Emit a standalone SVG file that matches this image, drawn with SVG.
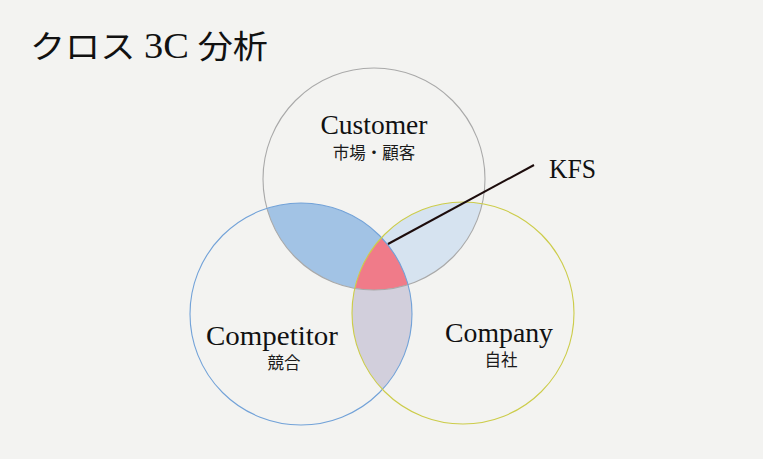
<svg xmlns="http://www.w3.org/2000/svg" width="763" height="459" viewBox="0 0 763 459">
<style>
.lab{font-family:"Liberation Serif","Noto Sans CJK JP",serif;fill:#111;}
.en{font-size:27px;}
.jp{font-size:16.5px;font-family:"Noto Sans CJK JP",sans-serif;fill:#1a1a1a;}
.ring{fill:none;stroke-width:1.1;}
</style>
<defs>
<clipPath id="cCust"><circle cx="374" cy="179" r="111"/></clipPath>
<clipPath id="cComp"><circle cx="301" cy="314" r="111"/></clipPath>
<clipPath id="cCo"><circle cx="463" cy="313" r="111"/></clipPath>
</defs>
<rect width="763" height="459" fill="#f3f3f1"/>
<g id="title"><text class="lab" x="30" y="58" font-size="32" textLength="238" lengthAdjust="spacingAndGlyphs">クロス <tspan font-size="35">3C</tspan> 分析</text></g>
<g id="overlaps">
<circle cx="301" cy="314" r="111" fill="#a2c3e5" clip-path="url(#cCust)"/>
<circle cx="463" cy="313" r="111" fill="#d6e3f0" clip-path="url(#cCust)"/>
<circle cx="463" cy="313" r="111" fill="#d2cfdc" clip-path="url(#cComp)"/>
<g clip-path="url(#cCust)"><circle cx="463" cy="313" r="111" fill="#f07b89" clip-path="url(#cComp)"/></g>
</g>
<g id="customer">
<circle class="ring" cx="374" cy="179" r="111" stroke="#a9a9a9"/>
<text class="lab en" x="374" y="134" text-anchor="middle" textLength="107" lengthAdjust="spacingAndGlyphs">Customer</text>
<text class="lab jp" x="374" y="159" text-anchor="middle">市場・顧客</text>
</g>
<g id="competitor">
<circle class="ring" cx="301" cy="314" r="111" stroke="#72a2d8"/>
<text class="lab en" x="272" y="345" text-anchor="middle" textLength="132" lengthAdjust="spacingAndGlyphs">Competitor</text>
<text class="lab jp" x="284" y="369" text-anchor="middle">競合</text>
</g>
<g id="company">
<circle class="ring" cx="463" cy="313" r="111" stroke="#cccc4a"/>
<text class="lab en" x="499" y="342" text-anchor="middle" textLength="108" lengthAdjust="spacingAndGlyphs">Company</text>
<text class="lab jp" x="501" y="366" text-anchor="middle">自社</text>
</g>
<g id="connectors">
<line x1="388" y1="244" x2="534" y2="165" stroke="#1c0c0c" stroke-width="2"/>
</g>
<g id="kfs"><text class="lab en" x="549" y="178" textLength="47" lengthAdjust="spacingAndGlyphs">KFS</text></g>
</svg>
